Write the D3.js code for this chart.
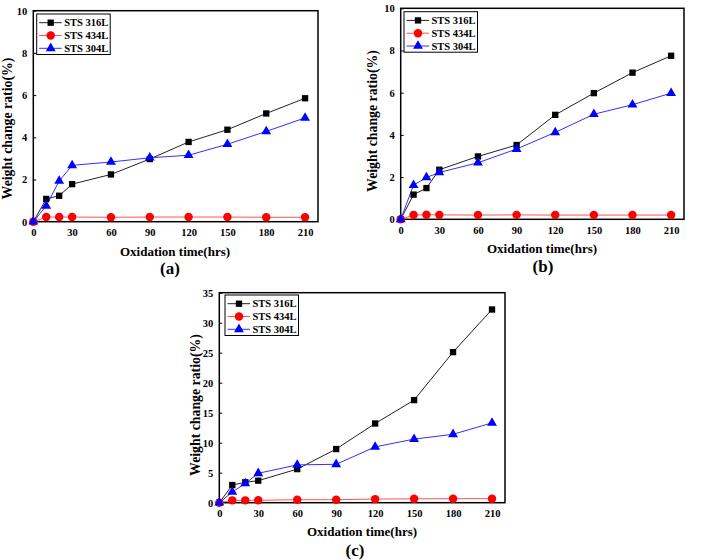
<!DOCTYPE html>
<html>
<head>
<meta charset="utf-8">
<script src="https://cdn.jsdelivr.net/npm/d3@7"></script>
<style>
html,body{margin:0;padding:0;background:#fff;}
svg text{font-family:"Liberation Serif","Times New Roman",serif;font-weight:bold;fill:#000;}
</style>
</head>
<body>
<svg id="chart" width="704" height="560"></svg>
<script>
// ---- data ----
const times = [0, 10, 20, 30, 60, 90, 120, 150, 180, 210];
const seriesNames = ["STS 316L", "STS 434L", "STS 304L"];
const panelLabels = ["(a)", "(b)", "(c)"];
const xTicks = [0, 30, 60, 90, 120, 150, 180, 210];
const yTicksAB = [0, 2, 4, 6, 8, 10];
const yTicksC = [0, 5, 10, 15, 20, 25, 30, 35];

const a316 = [0, 1.08, 1.23, 1.78, 2.24, 2.97, 3.78, 4.36, 5.13, 5.85];
const a434 = [0, 0.22, 0.22, 0.22, 0.21, 0.22, 0.22, 0.22, 0.21, 0.21];
const a304 = [0, 0.75, 1.93, 2.67, 2.83, 3.03, 3.15, 3.67, 4.28, 4.92];

const b316 = [0, 1.17, 1.48, 2.35, 2.98, 3.52, 4.95, 5.98, 6.95, 7.75];
const b434 = [0, 0.20, 0.22, 0.21, 0.20, 0.21, 0.20, 0.20, 0.20, 0.20];
const b304 = [0, 1.62, 1.98, 2.22, 2.68, 3.33, 4.12, 4.98, 5.43, 5.98];

const c316 = [0, 2.94, 3.4, 3.67, 5.6, 8.94, 13.2, 17.1, 25.1, 32.2];
const c434 = [0, 0.39, 0.39, 0.40, 0.50, 0.50, 0.60, 0.65, 0.67, 0.67];
const c304 = [0, 1.78, 3.2, 4.9, 6.3, 6.4, 9.3, 10.6, 11.4, 13.3];

// ---- styling / layout ----
const lineColors = ["#222", "#ff5555", "#3030ff"];
const markColors = ["#000", "#ff0000", "#0000ff"];
const markShapes = [d3.symbolSquare, d3.symbolCircle, d3.symbolTriangle];
const markSizes = [40, 56, 42];

const panels = [
  {series:[a316,a434,a304], yMax:10, yTicks:yTicksAB, L:33.3, R:318, T:10.7, B:221.7,
   yt:[7.5,128.5], xt:[175,251.5], pl:[170,268], leg:[36.7,14]},
  {series:[b316,b434,b304], yMax:10, yTicks:yTicksAB, L:400.7, R:684, T:8.3, B:219.3,
   yt:[372,121], xt:[542,248], pl:[543,266.5], leg:[404,11.7]},
  {series:[c316,c434,c304], yMax:35, yTicks:yTicksC, L:219.3, R:505, T:292.7, B:502.7,
   yt:[195,405], xt:[362,531.7], pl:[355,550], leg:[225,295]}
];

const svg = d3.select("#chart");

panels.forEach((p, pi) => {
  const x = d3.scaleLinear().domain([0, 220]).range([p.L, p.R]);
  const y = d3.scaleLinear().domain([0, p.yMax]).range([p.B, p.T]);
  const g = svg.append("g");

  // axes with inward ticks
  const xAxis = d3.axisBottom(x).tickValues(xTicks).tickSizeInner(-3).tickSizeOuter(0).tickPadding(7);
  const yAxis = d3.axisLeft(y).tickValues(p.yTicks).tickSizeInner(-3).tickSizeOuter(0).tickPadding(6);
  const gx = g.append("g").attr("transform", `translate(0,${p.B})`).call(xAxis);
  const gy = g.append("g").attr("transform", `translate(${p.L},0)`).call(yAxis);
  [gx, gy].forEach(ax => {
    ax.select(".domain").remove();
    ax.selectAll("text").attr("font-size", 10.5).attr("font-family", "Liberation Serif").attr("font-weight", "bold").attr("fill", "#000");
    ax.selectAll("line").attr("stroke", "#000");
  });

  // frame
  g.append("rect").attr("x", p.L).attr("y", p.T).attr("width", p.R - p.L).attr("height", p.B - p.T)
    .attr("fill", "none").attr("stroke", "#000").attr("stroke-width", 1.5);

  // series
  const line = d3.line().x((d, i) => x(times[i])).y(d => y(d));
  p.series.forEach((vals, si) => {
    g.append("path").datum(vals).attr("d", line).attr("fill", "none")
      .attr("stroke", lineColors[si]).attr("stroke-width", 1);
  });
  p.series.forEach((vals, si) => {
    g.selectAll(null).data(vals).enter().append("path")
      .attr("d", d3.symbol().type(markShapes[si]).size(markSizes[si]))
      .attr("transform", (d, i) => `translate(${x(times[i])},${y(d)})`)
      .attr("fill", markColors[si]);
  });

  // legend
  const lg = g.append("g").attr("transform", `translate(${p.leg[0]},${p.leg[1]})`);
  lg.append("rect").attr("width", 73.5).attr("height", 40.5).attr("fill", "#fff")
    .attr("stroke", "#000").attr("stroke-width", 1);
  seriesNames.forEach((name, si) => {
    const yy = 8.7 + si * 12.8;
    lg.append("line").attr("x1", 2.5).attr("x2", 25).attr("y1", yy).attr("y2", yy)
      .attr("stroke", lineColors[si]).attr("stroke-width", 1);
    lg.append("path").attr("d", d3.symbol().type(markShapes[si]).size(markSizes[si]))
      .attr("transform", `translate(14,${yy})`).attr("fill", markColors[si]);
    lg.append("text").attr("x", 27.5).attr("y", yy).attr("dy", "0.35em")
      .attr("font-size", 10.5).text(name);
  });

  // titles
  g.append("text").attr("transform", `translate(${p.yt[0]},${p.yt[1]}) rotate(-90)`)
    .attr("text-anchor", "middle").attr("dy", "0.35em").attr("font-size", 13.8)
    .text("Weight change ratio(%)");
  g.append("text").attr("x", p.xt[0]).attr("y", p.xt[1]).attr("dy", "0.35em")
    .attr("text-anchor", "middle").attr("font-size", 13)
    .text("Oxidation time(hrs)");
  g.append("text").attr("x", p.pl[0]).attr("y", p.pl[1]).attr("dy", "0.35em")
    .attr("text-anchor", "middle").attr("font-size", 17)
    .text(panelLabels[pi]);
});
</script>
</body>
</html>
